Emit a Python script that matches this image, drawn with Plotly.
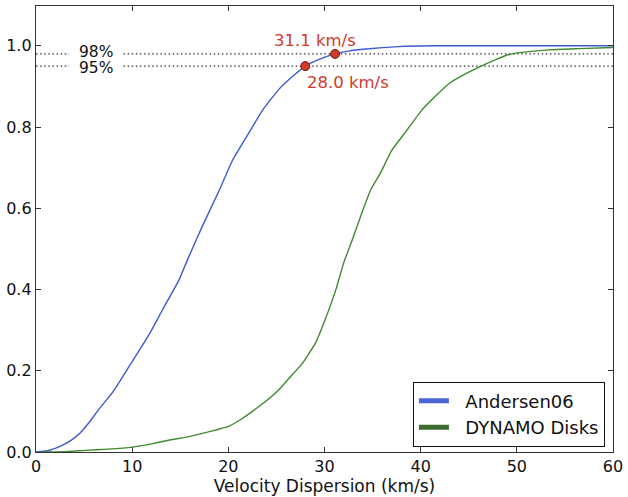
import plotly.graph_objects as go

# Andersen06 cumulative distribution
blue_v = [0, 1.2, 2.6, 3.6, 4.56, 5.6, 6.63, 8.0, 9.74, 11.8, 13.2, 14.9, 15.8, 17.3,
          19.07, 20.45, 22.2, 23.55, 25.3, 27.0, 28.0, 29.5, 31.1, 32.5, 34.3, 37.7, 41.1, 60]
blue_f = [0, 0.003, 0.015, 0.028, 0.046, 0.075, 0.108, 0.148, 0.213, 0.291, 0.352, 0.425,
          0.476, 0.556, 0.645, 0.719, 0.788, 0.841, 0.894, 0.931, 0.95, 0.967, 0.98, 0.987,
          0.992, 0.998, 1.0, 1.0]

# DYNAMO Disks cumulative distribution
green_v = [0.5, 3, 5.2, 7.5, 10.0, 12, 13.8, 15.5, 17.3, 19, 20.0, 21.3, 22.5, 23.8, 25.2,
           26.3, 27.7, 29.1, 30.1, 31.2, 32.0, 32.9, 33.75, 34.8, 35.8, 37.0, 38.5, 40.1,
           41.5, 42.9, 44.6, 46.4, 47.8, 49.1, 51, 53.3, 56.5, 60]
green_f = [0, 0.001, 0.004, 0.007, 0.012, 0.02, 0.029, 0.036, 0.046, 0.056, 0.063, 0.08,
           0.10, 0.123, 0.152, 0.181, 0.218, 0.27, 0.328, 0.401, 0.466, 0.523, 0.58, 0.645,
           0.686, 0.743, 0.79, 0.841, 0.875, 0.906, 0.93, 0.951, 0.966, 0.978, 0.985, 0.99,
           0.993, 0.996]

pct_levels = [0.98, 0.95]
pct_labels = ["98%", "95%"]
mark_v = [31.1, 28.0]
mark_labels = ["31.1 km/s", "28.0 km/s"]

x_ticks = [0, 10, 20, 30, 40, 50, 60]
y_ticks = [0.0, 0.2, 0.4, 0.6, 0.8, 1.0]

FONT = "DejaVu Sans"
BLUE = "#3b5bd2"
GREEN = "#3f8a2e"
RED = "#d23a2a"
NB = "\u00a0"

# styling positions (not data)
LABEL_X = 6.25
LABEL_NUDGE = [0.004, -0.004]
GAP = (3.45, 9.1)
MARK_LABEL_POS = [(28.96, 1.012), (32.4, 0.91)]

fig = go.Figure()

# dotted percentile lines, broken where the label sits
for lvl in pct_levels:
    fig.add_trace(go.Scatter(x=[0, GAP[0], None, GAP[1], 60], y=[lvl, lvl, None, lvl, lvl],
                             mode="lines", connectgaps=False,
                             line=dict(color="#333", width=1.2, dash="1.5px,2.6px"),
                             showlegend=False, hoverinfo="skip"))

fig.add_trace(go.Scatter(x=blue_v, y=blue_f, mode="lines",
                         line=dict(color=BLUE, width=1.4, shape="spline", smoothing=0.5),
                         showlegend=False))
fig.add_trace(go.Scatter(x=green_v, y=green_f, mode="lines",
                         line=dict(color=GREEN, width=1.4, shape="spline", smoothing=0.4),
                         showlegend=False))

# legend-only entries (thicker handles)
fig.add_trace(go.Scatter(x=[None], y=[None], mode="lines", name=NB * 2 + "Andersen06",
                         line=dict(color="#4a66d9", width=5)))
fig.add_trace(go.Scatter(x=[None], y=[None], mode="lines", name=NB * 2 + "DYNAMO Disks",
                         line=dict(color="#3d6b30", width=5)))

# red markers
fig.add_trace(go.Scatter(x=mark_v, y=pct_levels, mode="markers",
                         marker=dict(color=RED, size=9, line=dict(color="#6a1a10", width=1)),
                         showlegend=False))

for lbl, lvl, nudge in zip(pct_labels, pct_levels, LABEL_NUDGE):
    fig.add_annotation(x=LABEL_X, y=lvl + nudge, text=lbl, showarrow=False, xanchor="center",
                       yanchor="middle", borderpad=0,
                       font=dict(family=FONT, size=15.5, color="#111"))

for lbl, (px, py) in zip(mark_labels, MARK_LABEL_POS):
    fig.add_annotation(x=px, y=py, text=lbl, showarrow=False, xanchor="center",
                       yanchor="middle", font=dict(family=FONT, size=16.5, color=RED))

axis_common = dict(showgrid=False, zeroline=False, showline=True, linecolor="#333",
                   linewidth=1.3, mirror="allticks", ticks="inside", ticklen=5,
                   tickcolor="#333", tickwidth=1,
                   tickfont=dict(family=FONT, size=16, color="#111"))

fig.update_xaxes(range=[0, 60], tickvals=x_ticks, ticktext=[str(t) for t in x_ticks],
                 title=dict(text="Velocity Dispersion (km/s)", standoff=4,
                            font=dict(family=FONT, size=17, color="#111")),
                 **axis_common)
fig.update_yaxes(range=[0, 1.098], tickvals=y_ticks,
                 ticktext=[f"{t:.1f}" for t in y_ticks], **axis_common)

fig.update_layout(
    width=628, height=497,
    margin=dict(l=36, r=13, t=5, b=43),
    paper_bgcolor="white", plot_bgcolor="white",
    font=dict(family=FONT, color="#111"),
    legend=dict(x=0.986, y=0.012, xanchor="right", yanchor="bottom",
                bgcolor="white", bordercolor="#111", borderwidth=1,
                font=dict(family=FONT, size=18, color="#111")),
)

fig.write_html("out.html")
